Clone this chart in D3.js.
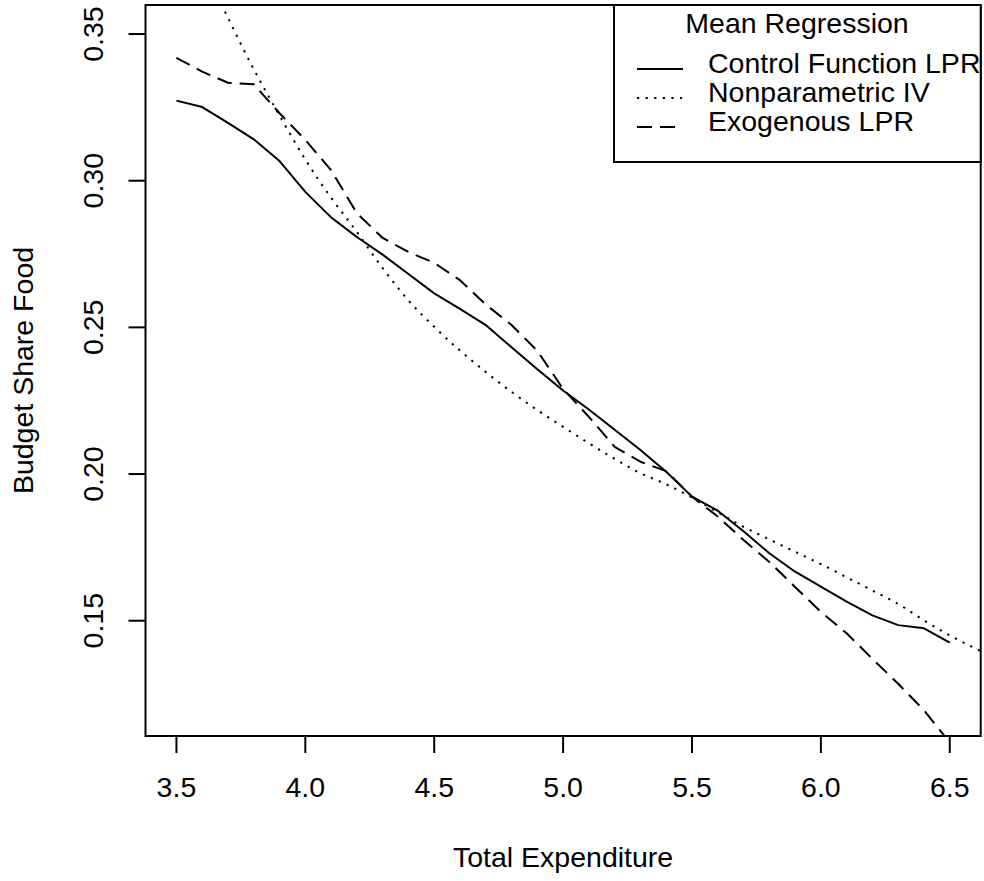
<!DOCTYPE html>
<html>
<head>
<meta charset="utf-8">
<script src="https://cdn.jsdelivr.net/npm/d3@7"></script>
<style>
  body { margin: 0; background: #fff; }
  text { font-family: "Liberation Sans", Arial, Helvetica, sans-serif; fill: #000; font-size: 28.5px; }
</style>
</head>
<body>
<svg class="chart"></svg>
<script>
var width = 984,
    height = 881;

// expenditure grid used by the two local polynomial fits
var xGrid = [3.5, 3.6, 3.7, 3.8, 3.9, 4.0, 4.1, 4.2, 4.3, 4.4, 4.5, 4.6, 4.7, 4.8, 4.9, 5.0,
             5.1, 5.2, 5.3, 5.4, 5.5, 5.6, 5.7, 5.8, 5.9, 6.0, 6.1, 6.2, 6.3, 6.4, 6.5];

var controlLPR = [0.3273, 0.3251, 0.3197, 0.3141, 0.3067, 0.2962, 0.2875, 0.2808, 0.2748, 0.2682,
                  0.2616, 0.2563, 0.2508, 0.2432, 0.2357, 0.2285, 0.2220, 0.2151, 0.2082, 0.2008,
                  0.1923, 0.1875, 0.1805, 0.1730, 0.1667, 0.1616, 0.1565, 0.1518, 0.1485, 0.1474, 0.1425];

var exogLPR = [0.3419, 0.3372, 0.3334, 0.3329, 0.3230, 0.3139, 0.3036, 0.2889, 0.2805, 0.2757,
               0.2720, 0.2661, 0.2578, 0.2508, 0.2420, 0.2290, 0.2195, 0.2093, 0.2042, 0.2010,
               0.1923, 0.1855, 0.1775, 0.1700, 0.1615, 0.1530, 0.1457, 0.1370, 0.1285, 0.1195, 0.1085];

// nonparametric IV runs past both edges of the plot
var npivX = [3.5, 3.6, 3.7, 3.8, 3.9, 4.0, 4.1, 4.2, 4.3, 4.4, 4.5, 4.6, 4.7, 4.8, 4.9, 5.0,
             5.1, 5.2, 5.3, 5.4, 5.5, 5.6, 5.7, 5.8, 5.9, 6.0, 6.1, 6.2, 6.3, 6.4, 6.5, 6.6, 6.7];
var npivY = [0.3920, 0.3740, 0.3555, 0.3380, 0.3222, 0.3072, 0.2942, 0.2825, 0.2702, 0.2592,
             0.2502, 0.2421, 0.2348, 0.2280, 0.2218, 0.2161, 0.2105, 0.2052, 0.2003, 0.1965,
             0.1920, 0.1870, 0.1820, 0.1777, 0.1735, 0.1693, 0.1648, 0.1603, 0.1557, 0.1501,
             0.1450, 0.1405, 0.1362];

var xTicks = [3.5, 4.0, 4.5, 5.0, 5.5, 6.0, 6.5];
var yTicks = [0.15, 0.20, 0.25, 0.30, 0.35];

var legendTitle = "Mean Regression";
var legendLabels = ["Control Function LPR", "Nonparametric IV", "Exogenous LPR"];

var dashFor = {
    "Control Function LPR": null,
    "Nonparametric IV": "2.2,6.4",
    "Exogenous LPR": "15,8"
};

var plot = { left: 145.5, right: 980.7, top: 5, bottom: 736 };

var x = d3.scaleLinear().domain([3.38, 6.62]).range([plot.left, plot.right]);
var y = d3.scaleLinear().domain([0.1107, 0.3599]).range([plot.bottom, plot.top]);

var svg = d3.select('.chart')
            .attr('width', width)
            .attr('height', height);

svg.append('rect')
   .attr('width', width)
   .attr('height', height)
   .attr('fill', '#fff');

svg.append('clipPath')
   .attr('id', 'plot-clip')
   .append('rect')
   .attr('x', plot.left)
   .attr('y', plot.top)
   .attr('width', plot.right - plot.left)
   .attr('height', plot.bottom - plot.top);

var line = d3.line()
             .x(d => x(d[0]))
             .y(d => y(d[1]));

var series = [
    { name: "Control Function LPR", pts: d3.zip(xGrid, controlLPR), curve: d3.curveLinear },
    { name: "Nonparametric IV", pts: d3.zip(npivX, npivY), curve: d3.curveMonotoneX },
    { name: "Exogenous LPR", pts: d3.zip(xGrid, exogLPR), curve: d3.curveLinear }
];

svg.append('g')
   .attr('clip-path', 'url(#plot-clip)')
   .selectAll('path')
   .data(series)
   .join('path')
   .attr('d', d => line.curve(d.curve)(d.pts))
   .attr('fill', 'none')
   .attr('stroke', '#000')
   .attr('stroke-width', 2)
   .attr('stroke-linejoin', 'round')
   .attr('stroke-dasharray', d => dashFor[d.name]);

// box
svg.append('rect')
   .attr('x', plot.left)
   .attr('y', plot.top)
   .attr('width', plot.right - plot.left)
   .attr('height', plot.bottom - plot.top)
   .attr('fill', 'none')
   .attr('stroke', '#000')
   .attr('stroke-width', 2);

// x axis
var xAxis = svg.append('g');
xAxis.selectAll('line')
     .data(xTicks)
     .join('line')
     .attr('x1', d => x(d)).attr('x2', d => x(d))
     .attr('y1', plot.bottom).attr('y2', plot.bottom + 17)
     .attr('stroke', '#000')
     .attr('stroke-width', 2);
xAxis.selectAll('text')
     .data(xTicks)
     .join('text')
     .attr('x', d => x(d))
     .attr('y', 797)
     .attr('text-anchor', 'middle')
     .text(d => d3.format('.1f')(d));

// y axis
var yAxis = svg.append('g');
yAxis.selectAll('line')
     .data(yTicks)
     .join('line')
     .attr('x1', plot.left - 17).attr('x2', plot.left)
     .attr('y1', d => y(d)).attr('y2', d => y(d))
     .attr('stroke', '#000')
     .attr('stroke-width', 2);
yAxis.selectAll('text')
     .data(yTicks)
     .join('text')
     .attr('transform', d => `translate(103,${y(d)}) rotate(-90)`)
     .attr('text-anchor', 'middle')
     .text(d => d3.format('.2f')(d));

svg.append('text')
   .attr('x', (plot.left + plot.right) / 2)
   .attr('y', 867)
   .attr('text-anchor', 'middle')
   .text('Total Expenditure');

svg.append('text')
   .attr('transform', `translate(33,${(plot.top + plot.bottom) / 2}) rotate(-90)`)
   .attr('text-anchor', 'middle')
   .text('Budget Share Food');

// legend
var legend = svg.append('g').attr('id', 'legend');
legend.append('rect')
      .attr('x', 614)
      .attr('y', plot.top)
      .attr('width', plot.right - 614)
      .attr('height', 157)
      .attr('fill', '#fff')
      .attr('stroke', '#000')
      .attr('stroke-width', 2);
legend.append('text')
      .attr('x', 797)
      .attr('y', 33)
      .attr('text-anchor', 'middle')
      .text(legendTitle);

var item = legend.selectAll('g.item')
                 .data(legendLabels)
                 .join('g')
                 .attr('class', 'item');
item.append('line')
    .attr('x1', 637).attr('x2', 683)
    .attr('y1', (d, i) => 69 + i * 29)
    .attr('y2', (d, i) => 69 + i * 29)
    .attr('stroke', '#000')
    .attr('stroke-width', 2)
    .attr('stroke-dasharray', d => dashFor[d]);
item.append('text')
    .attr('x', 708)
    .attr('y', (d, i) => 73 + i * 29)
    .text(d => d);
</script>
</body>
</html>
